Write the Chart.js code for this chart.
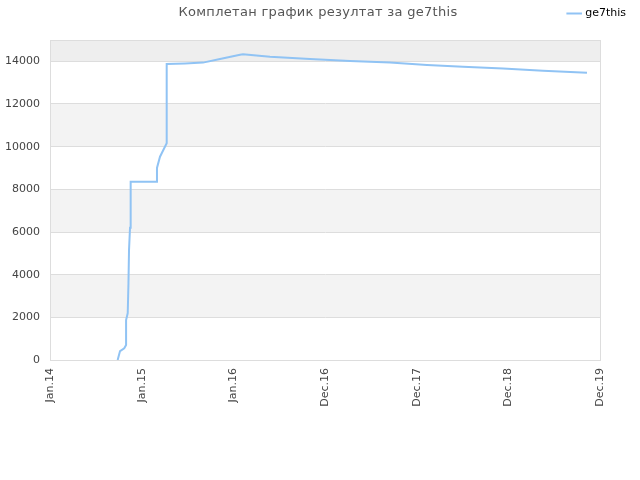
<!DOCTYPE html>
<html>
<head>
<meta charset="utf-8">
<script src="https://cdn.jsdelivr.net/npm/chart.js@4"></script>
<style>
  body { margin: 0; background: #fff; }
  #wrap { position: relative; width: 640px; height: 480px; }
  #title {
    position: absolute; top: 4px; left: 0; width: 636px;
    text-align: center; font: 13px "DejaVu Sans"; color: #555; letter-spacing: 0.3px;
  }
</style>
</head>
<body>
<div id="wrap">
  <div id="title">Комплетан график резултат за ge7this</div>
  <canvas id="chart" width="640" height="480"></canvas>
</div>
<script>
// Oznake na x osi (jednak razmak)
const xLabels = ['Jan.14', 'Jan.15', 'Jan.16', 'Dec.16', 'Dec.17', 'Dec.18', 'Dec.19'];
const yTicks = [0, 2000, 4000, 6000, 8000, 10000, 12000, 14000, 15000];
const seriesName = 'ge7this';

// Tacke serije (x u jedinicama razmaka izmedju oznaka)
const pointX = [0.738, 0.764, 0.81, 0.83, 0.83, 0.848, 0.856, 0.862, 0.873, 0.88,
                1.164, 1.167, 1.2, 1.273, 1.273, 1.473, 1.669, 1.855, 2.073, 2.105,
                2.4, 2.836, 3.273, 3.709, 4.113, 4.505, 4.942, 5.378, 5.858];
const pointY = [0, 420, 550, 700, 1875, 2200, 3600, 5150, 6200, 8360,
                8360, 9000, 9530, 10160, 13875, 13900, 13940, 14110, 14310, 14330,
                14220, 14110, 14015, 13940, 13830, 13750, 13660, 13560, 13470];

// Pozadinske trake
const bands = [
    { from: 14000, to: 15000, color: '#eeeeee' },
    { from: 10000, to: 12000, color: '#f3f3f3' },
    { from: 6000, to: 8000, color: '#f3f3f3' },
    { from: 2000, to: 4000, color: '#f3f3f3' }
];

const bandPlugin = {
    id: 'bands',
    beforeDraw(chart) {
        const { ctx, chartArea, scales } = chart;
        ctx.save();
        bands.forEach(b => {
            const y1 = scales.y.getPixelForValue(b.to);
            const y2 = scales.y.getPixelForValue(b.from);
            ctx.fillStyle = b.color;
            ctx.fillRect(chartArea.left, y1, chartArea.right - chartArea.left, y2 - y1);
        });
        ctx.restore();
    }
};

const font = { family: 'DejaVu Sans', size: 11 };

new Chart(document.getElementById('chart').getContext('2d'), {
    type: 'line',
    data: {
        datasets: [{
            label: seriesName,
            data: pointX.map((x, i) => ({ x: x, y: pointY[i] })),
            borderColor: '#90c3f4',
            backgroundColor: '#90c3f4',
            borderWidth: 2,
            pointRadius: 0,
            tension: 0,
            fill: false
        }]
    },
    options: {
        responsive: false,
        animation: false,
        layout: { padding: { top: 0, left: 0, right: 6, bottom: 0 } },
        plugins: {
            legend: {
                position: 'top',
                align: 'end',
                labels: {
                    usePointStyle: true,
                    pointStyle: 'line',
                    boxWidth: 12,
                    padding: 8,
                    color: '#000',
                    font: font
                }
            },
            tooltip: { enabled: false }
        },
        scales: {
            x: {
                type: 'linear',
                min: 0,
                max: 6,
                afterFit: s => { s.height = 120; },
                ticks: {
                    stepSize: 1,
                    autoSkip: false,
                    maxRotation: 90,
                    minRotation: 90,
                    padding: 8,
                    color: '#444',
                    font: font,
                    callback: v => xLabels[v]
                },
                grid: {
                    drawTicks: false,
                    color: c => (c.tick && (c.tick.value === 0 || c.tick.value === 6)) ? '#dddddd' : 'transparent'
                },
                border: { color: '#dddddd' }
            },
            xTop: {
                type: 'linear',
                position: 'top',
                afterFit: s => { s.height = 11; },
                ticks: { display: false },
                grid: { display: false },
                border: { display: false }
            },
            y: {
                min: 0,
                max: 15000,
                afterFit: s => { s.width = 50; },
                afterBuildTicks: s => { s.ticks = yTicks.map(v => ({ value: v })); },
                ticks: {
                    padding: 10,
                    color: '#444',
                    font: font,
                    callback: v => v === 15000 ? '' : v
                },
                grid: { drawTicks: false, color: '#dddddd' },
                border: { color: '#dddddd' }
            },
            yRight: {
                position: 'right',
                afterFit: s => { s.width = 34; },
                ticks: { display: false },
                grid: { display: false },
                border: { display: false }
            }
        }
    },
    plugins: [bandPlugin]
});
</script>
</body>
</html>
